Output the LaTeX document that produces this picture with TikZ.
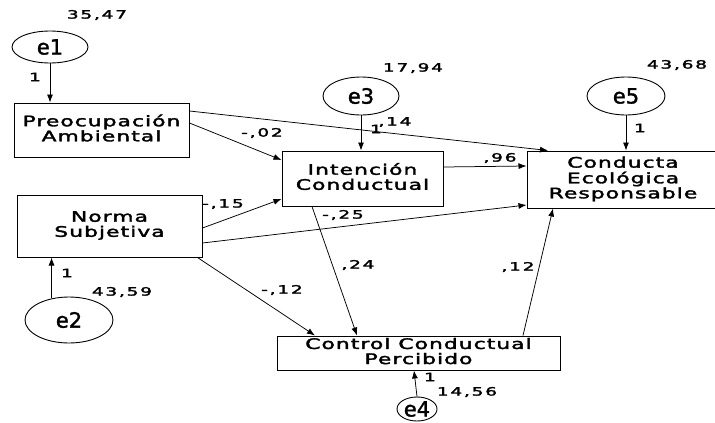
\documentclass[tikz,border=0pt]{standalone}
\usepackage{fontspec}
\usepackage{graphicx}
\setmainfont{DejaVu Sans}
\newfontfamily\boxfont[LetterSpace=5,FakeBold=2]{DejaVu Sans}
\newfontfamily\numfont[LetterSpace=10,FakeBold=2]{DejaVu Sans}
\newfontfamily\errfont[FakeBold=1.5]{DejaVu Sans}
\usetikzlibrary{arrows.meta,shapes.geometric}
% wide, stacked lines of a variable name
\newcommand\boxlines[1]{\scalebox{1.5}[1]{\begin{tabular}{@{}c@{}}#1\end{tabular}}}
% wide coefficient text
\newcommand\cf[1]{\scalebox{1.6}[1]{#1}}
\begin{document}
\begin{tikzpicture}[x=1pt,y=-1pt,
  var/.style={draw,line width=1pt,rectangle,inner sep=0pt,
    font=\boxfont\fontsize{14.5}{13.5}\selectfont},
  err/.style={draw,line width=0.9pt,ellipse,inner sep=0pt,
    font=\errfont\fontsize{21}{21}\selectfont},
  arr/.style={-{Latex[length=8pt,width=6pt]},line width=0.75pt},
  coef/.style={inner sep=0pt,font=\numfont\fontsize{11.5}{12}\selectfont}]
\clip (0,0) rectangle (715,423);
\fill[white] (0,0) rectangle (715,423);

% observed variables
\node[var,minimum width=175pt,minimum height=54pt] (preoc) at (101.5,130) {\boxlines{Preocupación\\Ambiental}};
\node[var,minimum width=161pt,minimum height=55pt] (inten) at (362.5,178.5) {\boxlines{Intención\\Conductual}};
\node[var,minimum width=192pt,minimum height=57pt] (cond) at (623,179.5) {\boxlines{Conducta\\Ecológica\\Responsable}};
\node[var,minimum width=185pt,minimum height=62pt] (norma) at (109.5,226) {\boxlines{Norma\\Subjetiva}};
\node[var,minimum width=283pt,minimum height=34pt] (ctrl) at (418.5,353) {\boxlines{Control Conductual\\Percibido}};

% error terms
\node[err,minimum width=76pt,minimum height=32pt] (e1) at (50,47) {e1};
\node[err,minimum width=76pt,minimum height=38pt] (e3) at (361,96) {e3};
\node[err,minimum width=78pt,minimum height=38pt] (e5) at (626,96) {e5};
\node[err,minimum width=88pt,minimum height=46pt] (e2) at (69,320) {e2};
\node[err,minimum width=40pt,minimum height=24pt] (e4) at (417,409) {e4};

% error paths
\draw[arr] (e1.south) -- (e1.south |- preoc.north);
\draw[arr] (e3.south) -- (e3.south |- inten.north);
\draw[arr] (e5.south) -- (e5.south |- cond.north);
\draw[arr] (e2.129) -- (e2.129 |- norma.south);
\draw[arr] (e4.north) -- ([xshift=-4.5pt]ctrl.south);

% structural paths
\draw[arr] ([yshift=7pt]preoc.east) -- ([yshift=18.5pt]inten.west);
\draw[arr] ([yshift=19pt]preoc.east) -- ([xshift=-75pt]cond.north);
\draw[arr] ([yshift=11.5pt]inten.east) -- ([yshift=13.5pt]cond.west);
\draw[arr] ([yshift=-2pt]norma.east) -- ([yshift=-20.5pt]inten.west);
\draw[arr] ([yshift=-17pt]norma.east) -- ([yshift=-25.5pt]cond.west);
\draw[arr] ([xshift=-5pt]norma.south east) -- ([xshift=-103.5pt]ctrl.north);
\draw[arr] ([xshift=-50.5pt]inten.south) -- ([xshift=-61.5pt]ctrl.north);
\draw[arr] ([xshift=104.5pt]ctrl.north) -- ([xshift=-70pt]cond.south);

% variances and weights
\node[coef] (v1) at (97,15) {\cf{35,47}};
\node[coef] (w1) at (35,77) {\cf{1}};
\node[coef] (v3) at (413,68) {\cf{17,94}};
\node[coef] (w3) at (376,129) {\cf{1}};
\node[coef] (pc) at (395,122) {\cf{,14}};
\node[coef] (pi) at (262,133) {\cf{-,02}};
\node[coef] (v5) at (677,65) {\cf{43,68}};
\node[coef] (w5) at (640,128) {\cf{1}};
\node[coef] (ic) at (500,158) {\cf{,96}};
\node[coef] (ni) at (223,204) {\cf{-,15}};
\node[coef] (nc) at (343,215) {\cf{-,25}};
\node[coef] (ik) at (358,265) {\cf{,24}};
\node[coef] (nk) at (282,290) {\cf{-,12}};
\node[coef] (kc) at (518,267) {\cf{,12}};
\node[coef] (w2) at (67,273) {\cf{1}};
\node[coef] (v2) at (122,292) {\cf{43,59}};
\node[coef] (w4) at (430,377) {\cf{1}};
\node[coef] (v4) at (467,392) {\cf{14,56}};
\end{tikzpicture}
\end{document}
